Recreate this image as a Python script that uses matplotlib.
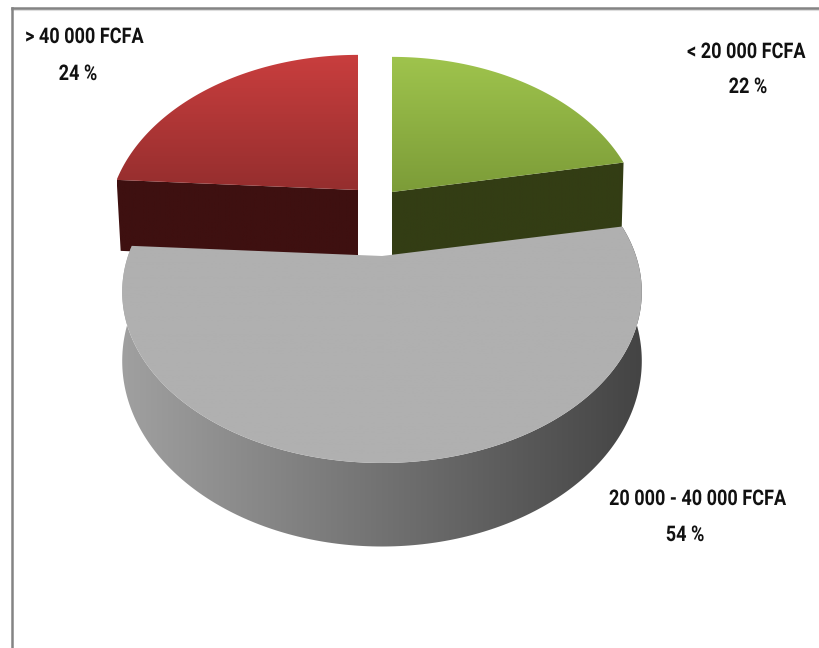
import numpy as np
import matplotlib
matplotlib.use('Agg')
import matplotlib.pyplot as plt
from matplotlib.colors import LinearSegmentedColormap
from matplotlib.patches import Polygon
from matplotlib.patheffects import AbstractPathEffect
from matplotlib.transforms import Affine2D

categories = ['20 000 - 40 000 FCFA', '> 40 000 FCFA', '< 20 000 FCFA']
shares = [54, 24, 22]

# slice looks, same order as categories
top_colors = [('#b0b0b0', '#b0b0b0'), ('#c93e3e', '#952e2e'), ('#9fc44d', '#7c9c38')]
wall_colors = [('#a0a0a0', '#444444'), ('#3e1010', '#3e1010'), ('#333d14', '#333d14')]
apex = [(382, 256), (358, 190), (392, 192)]
radius_x = [254, 245, 245]
label_xy = [(697, 499), (84, 37), (746, 52)]
pct_xy = [(685, 535), (78, 74), (748, 87)]

start_angle = -10.8
tilt = 0.21
radius_y = 163.5
depth = 66
back_depth = 71

plt.rcParams['font.family'] = ['Roboto', 'DejaVu Sans']

fig = plt.figure(figsize=(8.19, 6.48), dpi=100)
ax = fig.add_axes([0, 0, 1, 1])
ax.set_xlim(0, 819)
ax.set_ylim(648, 0)
ax.axis('off')


class Squeeze(AbstractPathEffect):
    # the labels in the picture are a condensed face, no such font here
    def __init__(self, fx):
        super().__init__()
        self.fx = fx

    def draw_path(self, renderer, gc, tpath, affine, rgbFace=None):
        box = affine.transform_path(tpath).get_extents()
        cx = (box.x0 + box.x1) / 2
        squeeze = Affine2D().translate(-cx, 0).scale(self.fx, 1).translate(cx, 0)
        renderer.draw_path(gc, tpath, affine + squeeze, rgbFace)


def project(i, theta, drop=0.0):
    # perspective view of a point on the pie rim, theta in degrees, y going down
    t = np.radians(theta)
    s = 1 / (1 - tilt * np.sin(t))
    x = apex[i][0] + radius_x[i] * np.cos(t) * s
    y = apex[i][1] + radius_y * np.sin(t) * s + drop * s
    return np.column_stack([x, y])


def fill(pts, c1, c2, horizontal=False, zorder=2):
    poly = Polygon(pts, closed=True, facecolor='none', edgecolor='none', zorder=zorder)
    ax.add_patch(poly)
    cmap = LinearSegmentedColormap.from_list('g', [c1, c2])
    x0, x1 = pts[:, 0].min(), pts[:, 0].max()
    y0, y1 = pts[:, 1].min(), pts[:, 1].max()
    grad = np.linspace(0, 1, 256)
    grad = grad.reshape(1, -1) if horizontal else grad.reshape(-1, 1)
    im = ax.imshow(grad, cmap=cmap, extent=[x0, x1, y1, y0], aspect='auto', zorder=zorder)
    im.set_clip_path(poly)


angles = [start_angle]
for v in shares:
    angles.append(angles[-1] + v * 3.6)

# back slices first, the big grey one sits in front of them
for i in [1, 2]:
    a0, a1 = angles[i], angles[i + 1]
    arc = project(i, np.linspace(a0, a1, 120))
    cut = a0 if i == 1 else a1
    edge = project(i, np.array([cut]))
    ap = np.array([apex[i]], dtype=float)
    # outer wall edge leans in a little going down
    lean = 4 if i == 1 else -2
    wall = np.vstack([ap, edge, edge + [lean, back_depth], ap + [0, back_depth]])
    fill(wall, wall_colors[i][0], wall_colors[i][1], horizontal=True, zorder=2)
    fill(np.vstack([ap, arc]), top_colors[i][0], top_colors[i][1], zorder=3)

a0, a1 = angles[0], angles[1]
ts = np.linspace(a0, a1, 240)
rim = project(0, ts)
low = project(0, ts, drop=depth)
fill(np.vstack([rim, low[::-1]]), wall_colors[0][0], wall_colors[0][1], horizontal=True, zorder=4)
fill(np.vstack([np.array([apex[0]], dtype=float), rim]), top_colors[0][0], top_colors[0][1], zorder=5)

# image frame
ax.plot([11.5, 819], [10, 10], color='#dddddd', lw=1.5, zorder=1)
ax.plot([11.5, 819], [8, 8], color='#848484', lw=1.8, zorder=1)
ax.plot([11.5, 11.5], [8, 648], color='#848484', lw=1.8, zorder=1)

for name, v, p, q in zip(categories, shares, label_xy, pct_xy):
    for xy, s in ((p, name), (q, f'{v} %')):
        ax.text(xy[0], xy[1], s, ha='center', va='center', fontsize=15.5, fontweight='bold',
                color='#111111', zorder=6, path_effects=[Squeeze(0.84)])

ax.set_xlim(0, 819)
ax.set_ylim(648, 0)
fig.savefig('out.png', dpi=100)
